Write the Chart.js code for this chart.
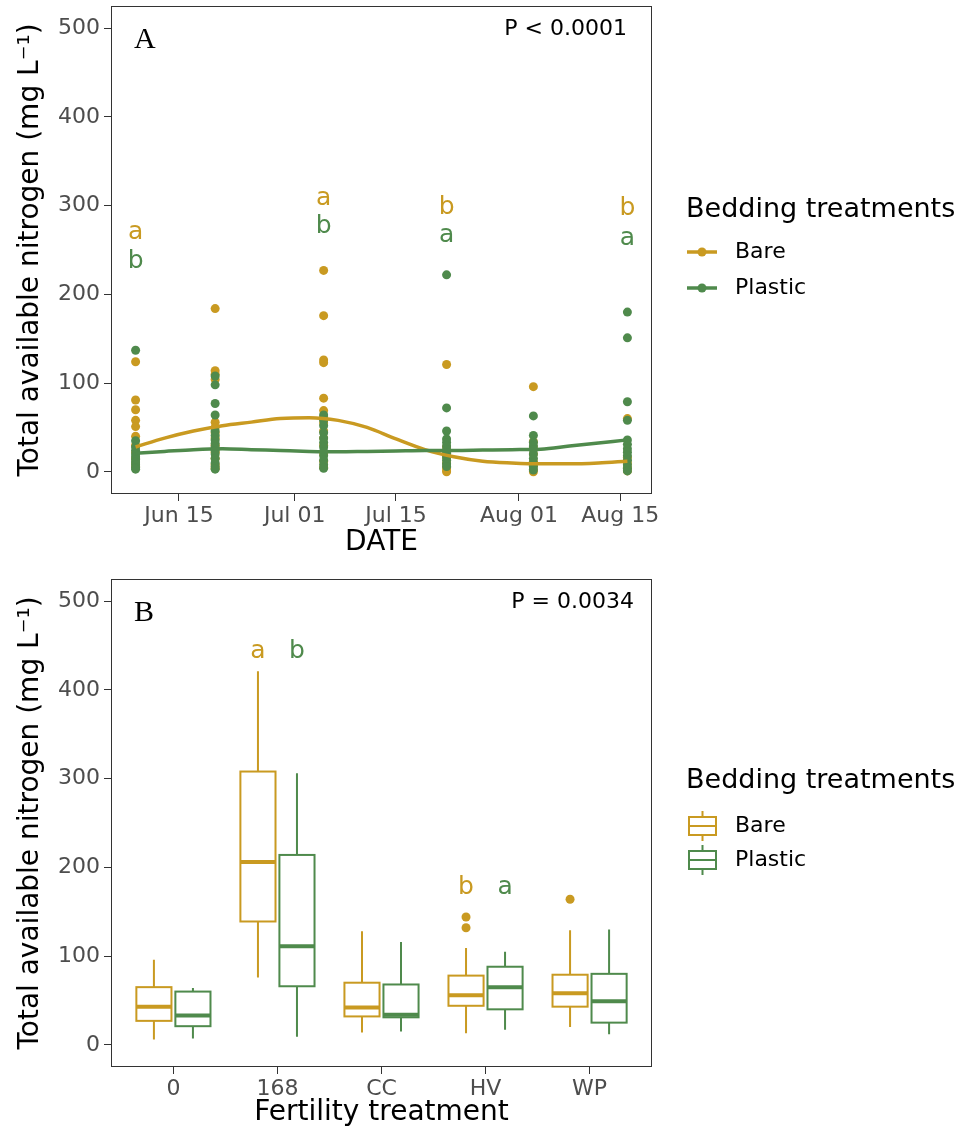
<!DOCTYPE html>
<html>
<head>
<meta charset="utf-8">
<script src="https://cdn.jsdelivr.net/npm/chart.js@4.4.1/dist/chart.umd.min.js"></script>
<style>
  html, body { margin: 0; padding: 0; background: #fff; }
  #wrap { position: relative; width: 979px; height: 1131px; }
  canvas { position: absolute; left: 0; }
  #chart-a { top: 0; }
  #chart-b { top: 560px; }
</style>
</head>
<body>
<div id="wrap">
  <canvas id="chart-a" width="979" height="560"></canvas>
  <canvas id="chart-b" width="979" height="571"></canvas>
</div>
<script>
/* Panel A — nitrogen over sampling dates (days counted from Jun 01) */
const SAMPLE_DAYS = [8, 19, 34, 51, 63, 76];
const BARE_N = [
  [124, 81, 70, 58, 51, 40, 30, 22, 15, 10, 6],
  [184, 114, 110, 104, 56, 50, 44, 38, 30, 22, 15, 8, 4],
  [227, 176, 126, 123, 83, 69, 62, 55, 46, 38, 30, 20, 12, 5],
  [121, 28, 22, 16, 10, 5, 2, 0],
  [96, 34, 28, 20, 12, 7, 3, 0],
  [60, 16, 10, 5, 1],
];
const PLASTIC_N = [
  [137, 35, 28, 24, 20, 17, 14, 11, 8, 5, 3],
  [108, 98, 77, 64, 46, 41, 36, 32, 28, 24, 20, 15, 10, 6, 3],
  [64, 58, 52, 44, 38, 33, 28, 23, 18, 13, 8, 4],
  [222, 72, 46, 37, 33, 29, 25, 21, 17, 13, 9, 6],
  [63, 41, 33, 29, 25, 20, 15, 10, 6, 2],
  [180, 151, 79, 58, 36, 31, 26, 22, 18, 13, 8, 4, 1],
];
const FIT_DAYS    = [8, 12, 16, 20, 24, 28, 32, 36, 40, 44, 48, 52, 56, 60, 64, 68, 72, 76];
const BARE_FIT    = [28, 38, 46, 52, 56, 60, 61, 58, 50, 37, 25, 17, 12, 10, 9, 9, 10, 12];
const PLASTIC_FIT = [21, 23, 25, 26, 25, 24, 23, 22.5, 23, 23.5, 24, 24, 24.5, 25, 25.5, 29, 32.5, 36];
const DATE_TICK_DAYS   = [14, 30, 44, 61, 75];
const DATE_TICK_LABELS = ['Jun 15', 'Jul 01', 'Jul 15', 'Aug 01', 'Aug 15'];
const BARE_LETTERS     = ['a', '', 'a', 'b', '', 'b'];
const BARE_LETTER_Y    = [262, null, 301, 291, null, 289];
const PLASTIC_LETTERS  = ['b', '', 'b', 'a', '', 'a'];
const PLASTIC_LETTER_Y = [230, null, 269, 259, null, 256];

/* Panel B — boxplots per fertility treatment */
const FERT_CATS   = ['0', '168', 'CC', 'HV', 'WP'];
const BARE_MIN    = [6, 76, 14, 13, 20];
const BARE_Q1     = [27, 139, 32, 44, 43];
const BARE_MED    = [43, 206, 42, 56, 58];
const BARE_Q3     = [65, 308, 70, 78, 79];
const BARE_MAX    = [96, 421, 128, 109, 129];
const BARE_OUT    = [[], [], [], [144, 132], [164]];
const PLASTIC_MIN = [7, 9, 15, 17, 12];
const PLASTIC_Q1  = [21, 66, 31, 40, 25];
const PLASTIC_MED = [33, 111, 34, 65, 49];
const PLASTIC_Q3  = [60, 214, 68, 88, 80];
const PLASTIC_MAX = [64, 306, 116, 105, 130];
const PLASTIC_OUT = [[], [], [], [], []];
const BOX_BARE_LETTERS    = ['', 'a', '', 'b', ''];
const BOX_PLASTIC_LETTERS = ['', 'b', '', 'a', ''];
const BOX_LETTER_Y        = [null, 436, null, 170, null];

const Y_TICKS = [0, 100, 200, 300, 400, 500];

const GOLD = '#C99A21';
const GREEN = '#4F8A4C';
const INK = '#333333';
const TICK_TXT = '#4D4D4D';
const SANS = '"DejaVu Sans", sans-serif';
const DODGE = 0.1875, HALF_BOX = 0.16875;

Chart.defaults.font.family = SANS;
Chart.defaults.animation = false;

const scatterPts = cols => cols.flatMap((vals, i) => vals.map(v => ({ x: SAMPLE_DAYS[i], y: v })));
const fitPts = vals => FIT_DAYS.map((d, i) => ({ x: d, y: vals[i] }));
const outlierPts = (outs, off) => outs.flatMap((vals, i) => vals.map(v => ({ x: i + 1 + off, y: v })));

function yScale() {
  return {
    type: 'linear', min: -25, max: 525,
    afterBuildTicks: s => { s.ticks = Y_TICKS.map(v => ({ value: v })); },
    // fixed width, and no extra room for the top/bottom labels
    afterFit: s => { s.width = 111; s.paddingTop = 0; s.paddingBottom = 0; },
    grid: { drawOnChartArea: false, drawTicks: true, tickLength: 7, color: INK },
    border: { display: false },
    ticks: { color: TICK_TXT, font: { size: 22 }, padding: 4 },
    title: { display: true, text: 'Total available nitrogen (mg L⁻¹)', color: '#000', font: { size: 28 }, padding: { top: 14, bottom: 0 } },
  };
}

function xScale(min, max, tickVals, tickLabels, height, title, titlePad) {
  return {
    type: 'linear', min, max,
    afterBuildTicks: s => { s.ticks = tickVals.map(v => ({ value: v })); },
    afterFit: s => { s.height = height; s.paddingLeft = 0; s.paddingRight = 0; },
    grid: { drawOnChartArea: false, drawTicks: true, tickLength: 7, color: INK },
    border: { display: false },
    ticks: { color: TICK_TXT, font: { size: 22 }, padding: 2, maxRotation: 0, autoSkip: false,
             callback: (v, i) => tickLabels[i] },
    title: { display: true, text: title, color: '#000', font: { size: 28 }, padding: { top: 0, bottom: titlePad } },
  };
}

const frame = {
  id: 'frame',
  afterDraw(chart) {
    const { ctx, chartArea: a } = chart;
    ctx.save();
    ctx.strokeStyle = INK; ctx.lineWidth = 1;
    ctx.strokeRect(Math.round(a.left) + 0.5, Math.round(a.top) + 0.5,
                   Math.round(a.right - a.left) - 1, Math.round(a.bottom - a.top) - 1);
    ctx.restore();
  }
};

function panelText(ctx, a, label, pText, pRight) {
  ctx.save();
  ctx.fillStyle = '#000';
  ctx.textBaseline = 'alphabetic';
  ctx.font = '30px "Liberation Serif", serif';
  ctx.textAlign = 'left';
  ctx.fillText(label, a.left + 23, a.top + 42);
  ctx.font = '22px ' + SANS;
  ctx.textAlign = 'right';
  ctx.fillText(pText, a.right - pRight, a.top + 29);
  ctx.restore();
}

function drawLegend(ctx, midY, kind) {
  ctx.save();
  ctx.fillStyle = '#000';
  ctx.textBaseline = 'middle';
  ctx.textAlign = 'left';
  ctx.font = '27px ' + SANS;
  ctx.fillText('Bedding treatments', 686, midY);
  const rows = kind === 'line' ? [midY + 42, midY + 78] : [midY + 45, midY + 79];
  [['Bare', GOLD], ['Plastic', GREEN]].forEach(([name, col], i) => {
    const y = rows[i];
    ctx.strokeStyle = col; ctx.fillStyle = col;
    if (kind === 'line') {
      ctx.lineWidth = 3.5;
      ctx.beginPath(); ctx.moveTo(687, y); ctx.lineTo(717, y); ctx.stroke();
      ctx.beginPath(); ctx.arc(702, y, 4.5, 0, Math.PI * 2); ctx.fill();
    } else {
      ctx.lineWidth = 2;
      ctx.strokeRect(689, y - 9, 27, 18);
      ctx.beginPath();
      ctx.moveTo(702.5, y - 15); ctx.lineTo(702.5, y - 9);
      ctx.moveTo(702.5, y + 9); ctx.lineTo(702.5, y + 15);
      ctx.moveTo(689, y); ctx.lineTo(716, y);
      ctx.stroke();
    }
    ctx.fillStyle = '#000';
    ctx.font = '22px ' + SANS;
    ctx.fillText(name, 735, y);
  });
  ctx.restore();
}

const annotateA = {
  id: 'annotateA',
  afterDraw(chart) {
    const { ctx, chartArea: a, scales: { x, y } } = chart;
    ctx.save();
    ctx.font = '25px ' + SANS;
    ctx.textAlign = 'center'; ctx.textBaseline = 'alphabetic';
    SAMPLE_DAYS.forEach((d, i) => {
      if (BARE_LETTERS[i]) {
        ctx.fillStyle = GOLD;
        ctx.fillText(BARE_LETTERS[i], x.getPixelForValue(d), y.getPixelForValue(BARE_LETTER_Y[i]));
      }
      if (PLASTIC_LETTERS[i]) {
        ctx.fillStyle = GREEN;
        ctx.fillText(PLASTIC_LETTERS[i], x.getPixelForValue(d), y.getPixelForValue(PLASTIC_LETTER_Y[i]));
      }
    });
    ctx.restore();
    panelText(ctx, a, 'A', 'P < 0.0001', 25);
    drawLegend(ctx, 210, 'line');
  }
};

// box, whiskers and median for one group, positioned via the chart scales
function drawBoxes(ctx, x, y, off, col, mins, q1s, meds, q3s, maxs) {
  ctx.save();
  ctx.strokeStyle = col;
  FERT_CATS.forEach((c, i) => {
    const cx = x.getPixelForValue(i + 1 + off);
    const l = x.getPixelForValue(i + 1 + off - HALF_BOX);
    const r = x.getPixelForValue(i + 1 + off + HALF_BOX);
    const yq1 = y.getPixelForValue(q1s[i]), yq3 = y.getPixelForValue(q3s[i]);
    ctx.lineWidth = 2;
    ctx.beginPath();
    ctx.moveTo(cx, y.getPixelForValue(maxs[i])); ctx.lineTo(cx, yq3);
    ctx.moveTo(cx, y.getPixelForValue(mins[i])); ctx.lineTo(cx, yq1);
    ctx.stroke();
    ctx.strokeRect(l, yq3, r - l, yq1 - yq3);
    ctx.lineWidth = 4;
    ctx.beginPath();
    const ym = y.getPixelForValue(meds[i]);
    ctx.moveTo(l, ym); ctx.lineTo(r, ym);
    ctx.stroke();
  });
  ctx.restore();
}

const boxplots = {
  id: 'boxplots',
  afterDatasetsDraw(chart) {
    const { ctx, scales: { x, y } } = chart;
    drawBoxes(ctx, x, y, -DODGE, GOLD, BARE_MIN, BARE_Q1, BARE_MED, BARE_Q3, BARE_MAX);
    drawBoxes(ctx, x, y, DODGE, GREEN, PLASTIC_MIN, PLASTIC_Q1, PLASTIC_MED, PLASTIC_Q3, PLASTIC_MAX);
  },
  afterDraw(chart) {
    const { ctx, chartArea: a, scales: { x, y } } = chart;
    ctx.save();
    ctx.font = '25px ' + SANS;
    ctx.textAlign = 'center'; ctx.textBaseline = 'alphabetic';
    FERT_CATS.forEach((c, i) => {
      if (BOX_BARE_LETTERS[i]) {
        ctx.fillStyle = GOLD;
        ctx.fillText(BOX_BARE_LETTERS[i], x.getPixelForValue(i + 1 - DODGE), y.getPixelForValue(BOX_LETTER_Y[i]));
      }
      if (BOX_PLASTIC_LETTERS[i]) {
        ctx.fillStyle = GREEN;
        ctx.fillText(BOX_PLASTIC_LETTERS[i], x.getPixelForValue(i + 1 + DODGE), y.getPixelForValue(BOX_LETTER_Y[i]));
      }
    });
    ctx.restore();
    panelText(ctx, a, 'B', 'P = 0.0034', 18);
    drawLegend(ctx, 221, 'box');
  }
};

const noChrome = { legend: { display: false }, tooltip: { enabled: false } };

new Chart(document.getElementById('chart-a'), {
  type: 'scatter',
  data: {
    datasets: [
      { label: 'Plastic fit', data: fitPts(PLASTIC_FIT), showLine: true, borderColor: GREEN, borderWidth: 3.5,
        pointRadius: 0, cubicInterpolationMode: 'monotone', order: 0 },
      { label: 'Bare fit', data: fitPts(BARE_FIT), showLine: true, borderColor: GOLD, borderWidth: 3.5,
        pointRadius: 0, cubicInterpolationMode: 'monotone', order: 1 },
      { label: 'Plastic', data: scatterPts(PLASTIC_N), backgroundColor: GREEN, borderColor: GREEN,
        pointRadius: 4.5, pointBorderWidth: 0, order: 2 },
      { label: 'Bare', data: scatterPts(BARE_N), backgroundColor: GOLD, borderColor: GOLD,
        pointRadius: 4.5, pointBorderWidth: 0, order: 3 },
    ],
  },
  options: {
    responsive: false,
    layout: { padding: { left: 0, right: 327, top: 6, bottom: 0 } },
    plugins: noChrome,
    scales: {
      x: xScale(4.6, 79.4, DATE_TICK_DAYS, DATE_TICK_LABELS, 66, 'DATE', 0),
      y: yScale(),
    },
  },
  plugins: [annotateA, frame],
});

new Chart(document.getElementById('chart-b'), {
  type: 'scatter',
  data: {
    datasets: [
      { label: 'Bare outliers', data: outlierPts(BARE_OUT, -DODGE), backgroundColor: GOLD, borderColor: GOLD,
        pointRadius: 4.5, pointBorderWidth: 0 },
      { label: 'Plastic outliers', data: outlierPts(PLASTIC_OUT, DODGE), backgroundColor: GREEN, borderColor: GREEN,
        pointRadius: 4.5, pointBorderWidth: 0 },
    ],
  },
  options: {
    responsive: false,
    layout: { padding: { left: 0, right: 327, top: 19, bottom: 0 } },
    plugins: noChrome,
    scales: {
      x: xScale(0.4, 5.6, [1, 2, 3, 4, 5], FERT_CATS, 64, 'Fertility treatment', 1),
      y: yScale(),
    },
  },
  plugins: [boxplots, frame],
});
</script>
</body>
</html>
